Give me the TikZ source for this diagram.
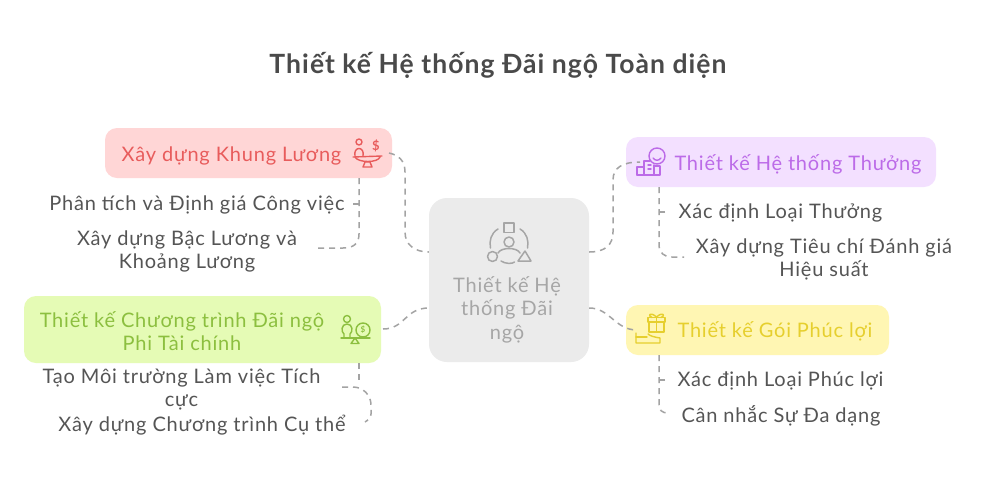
\documentclass[tikz,border=0pt]{standalone}
\usepackage{fontspec}
\setmainfont[LetterSpace=4]{Lato}
\definecolor{cdash}{HTML}{A3A3A3}
\definecolor{ctext}{HTML}{555555}
\definecolor{ctitle}{HTML}{4A4A4A}
\definecolor{redf}{HTML}{FFD6D6}\definecolor{redt}{HTML}{E85C5C}
\definecolor{purf}{HTML}{F3E0FF}\definecolor{purt}{HTML}{BC6BE8}
\definecolor{yelf}{HTML}{FFF6B3}\definecolor{yelt}{HTML}{E6CF2E}
\definecolor{grnf}{HTML}{E5FBB5}\definecolor{grnt}{HTML}{8CBF3F}
\definecolor{cenf}{HTML}{EBEBEB}\definecolor{cent}{HTML}{A6A6A6}
\tikzset{
 x=1pt,y=-1pt,
 boxnode/.style={draw=none,rounded corners=12pt,inner sep=0pt},
 lbl/.style={inner sep=0pt,align=center,font=\fontsize{20}{23.5}\selectfont},
 sublbl/.style={lbl,text=ctext},
 link/.style={draw=cdash,line width=1.5pt,dash pattern=on 6pt off 5pt,rounded corners=0pt},
 ico/.style={line width=1.4pt,line cap=round,line join=round},
}
\begin{document}
\begin{tikzpicture}
\useasboundingbox (0,0) rectangle (995,480);
\fill[white] (0,0) rectangle (995,480);
\node[inner sep=0pt,text=ctitle,font=\fontsize{26.5}{30}\selectfont\bfseries] (title) at (498,65.5) {Thiết kế Hệ thống Đãi ngộ Toàn diện};

\node[boxnode,rounded corners=18pt,fill=cenf,minimum width=160pt,minimum height=164pt] (center) at (509,280) {};
\node[boxnode,fill=redf,minimum width=287pt,minimum height=50pt] (red) at (248.5,153) {};
\node[boxnode,fill=purf,minimum width=310pt,minimum height=50pt] (pur) at (781,162) {};
\node[boxnode,fill=yelf,minimum width=263pt,minimum height=50pt] (yel) at (757.5,330) {};
\node[boxnode,fill=grnf,minimum width=357pt,minimum height=67pt] (grn) at (202.5,329.5) {};

\node[lbl,text=cent] (centerT) at (507,309.5) {Thiết kế Hệ\\thống Đãi\\ngộ};
\node[lbl,text=redt] (redT) at (231.5,156) {Xây dựng Khung Lương};
\node[lbl,text=purt] (purT) at (798,164) {Thiết kế Hệ thống Thưởng};
\node[lbl,text=yelt] (yelT) at (775,331) {Thiết kế Gói Phúc lợi};
\node[lbl,text=grnt] (grnT) at (182,331) {Thiết kế Chương trình Đãi ngộ\\Phi Tài chính};

\node[sublbl] (r1) at (197,205) {Phân tích và Định giá Công việc};
\node[sublbl] (r2) at (187,251.5) {Xây dựng Bậc Lương và\\Khoảng Lương};
\node[sublbl] (g1) at (181.5,389.5) {Tạo Môi trường Làm việc Tích\\cực};
\node[sublbl] (g2) at (202,425) {Xây dựng Chương trình Cụ thể};
\node[sublbl] (p1) at (780.5,213) {Xác định Loại Thưởng};
\node[sublbl] (p2) at (824,259.5) {Xây dựng Tiêu chí Đánh giá\\Hiệu suất};
\node[sublbl] (y1) at (780.5,381) {Xác định Loại Phúc lợi};
\node[sublbl] (y2) at (781,416) {Cân nhắc Sự Đa dạng};

% way points
\coordinate (rS) at (389,153);
\coordinate (pS) at (640,162);
\coordinate (yS) at (637,330);
\coordinate (gS) at (383,329);
\coordinate (cWu) at (center.west |- 0,252);
\coordinate (cWl) at (center.west |- 0,308);
\coordinate (cEu) at (center.east |- 0,252);
\coordinate (cEl) at (center.east |- 0,308);

\draw[link] (rS) .. controls (398,155) and (405,160) .. (405,172) -- (405,232) .. controls (405,245) and (415,252) .. (cWu);
\draw[link] (cEu) .. controls (605,252) and (613,245) .. (613,232) -- (613,180) .. controls (613,168) and (622,162) .. (pS);
\draw[link] (cEl) .. controls (610,308) and (615,330) .. (yS);
\draw[link] (gS) .. controls (405,329) and (405,308) .. (cWl);

% sub connectors
\coordinate (rA) at (316,248);\coordinate (rT) at (353,204);
\draw[link] (red.south -| 359,0) -- (359,234) .. controls (359,244) and (353,248) .. (343,248) -- (rA);
\draw[link,dash pattern=] (rT) -- (359,204);
\coordinate (pA) at (684,257);\coordinate (pT) at (665,212);
\draw[link] (pur.south -| 659,0) -- (659,244) .. controls (659,253) and (664,257) .. (672,257) -- (pA);
\draw[link,dash pattern=] (pT) -- (659,212);
\coordinate (yA) at (668,413);\coordinate (yT) at (665,380);
\draw[link] (yel.south -| 659,0) -- (659,405) .. controls (659,410) and (662,413) .. (yA);
\draw[link,dash pattern=] (yT) -- (659,380);
\coordinate (gA) at (342,387);\coordinate (gE) at (365,422);
\draw[link] (grn.south -| 359,0) -- (359,385);
\draw[link] (gA) -- (353,387) .. controls (363,387) and (371,395) .. (371,405) -- (371,414) .. controls (371,418) and (368,420) .. (gE);

% centre icon
\begin{scope}[ico,draw=cent,line width=1.5pt]
\draw (504,223) rectangle (514,232.5);
\draw (509,242) circle[radius=5];
\draw (498,253) .. controls (501,247) and (517,247) .. (520,253);
\draw (492.5,256.5) circle[radius=5];
\draw (525,251) -- (531,261) -- (518,261) -- cycle;
\draw (498,229) .. controls (491,233) and (489,241) .. (490.5,248);
\draw (520,229) .. controls (527,233) and (529,241) .. (527.5,248);
\draw (501,261) .. controls (505,264) and (513,264) .. (514.5,262);
\end{scope}
% red icon
\begin{scope}[ico,draw=redt]
\draw (359,142) circle[radius=3];
\draw (355,156) .. controls (353,146) and (365,146) .. (363,156);
\draw (353,157) -- (382,156);
\draw (355,157) .. controls (358,163) and (378,163) .. (380,157);
\draw (363,167) -- (372,167) -- (370,162) -- (365,162) -- cycle;
\node[inner sep=0pt,text=redt,font=\fontsize{13}{13}\selectfont\bfseries] (redD) at (376,146) {\$};
\end{scope}
% purple icon
\begin{scope}[ico,draw=purt]
\draw (657,156) circle[radius=8];
\draw (653,158) .. controls (655,161) and (659,161) .. (661,158);
\draw (637,175) -- (660,175) -- (660,166) -- (655,166);
\draw (637,175) -- (637,167) -- (644,167);
\draw (644,175) -- (644,161) -- (650,161);
\draw (654,175) -- (654,165);
\draw (648,165) -- (651,165) (648,169) -- (651,169);
\end{scope}
% yellow icon
\begin{scope}[ico,draw=yelt]
\draw (649,322) rectangle (664,332);
\draw (648,317.5) rectangle (665,322);
\draw (656.5,317.5) -- (656.5,332);
\draw (656.5,317) .. controls (650,311) and (647,316) .. (652,317.5);
\draw (656.5,317) .. controls (663,311) and (666,316) .. (661,317.5);
\draw (636,333) -- (636,343) -- (660,343) -- (660,338) .. controls (654,337) and (650,336) .. (648,334);
\draw (636,337) -- (647,337);
\end{scope}
% green icon
\begin{scope}[ico,draw=grnt]
\draw (347,319) circle[radius=3.5];
\draw (344,338) -- (344,334) .. controls (341,332) and (341,324) .. (347,324) .. controls (353,324) and (353,332) .. (350,334) -- (350,338);
\draw (341,338) -- (370,338);
\draw (363,330) circle[radius=7];
\node[inner sep=0pt,text=grnt,font=\fontsize{8}{8}\selectfont\bfseries] (grnD) at (363,330) {\$};
\draw (351,343.5) -- (359,343.5) -- (355,338) -- cycle;
\end{scope}
\end{tikzpicture}
\end{document}
